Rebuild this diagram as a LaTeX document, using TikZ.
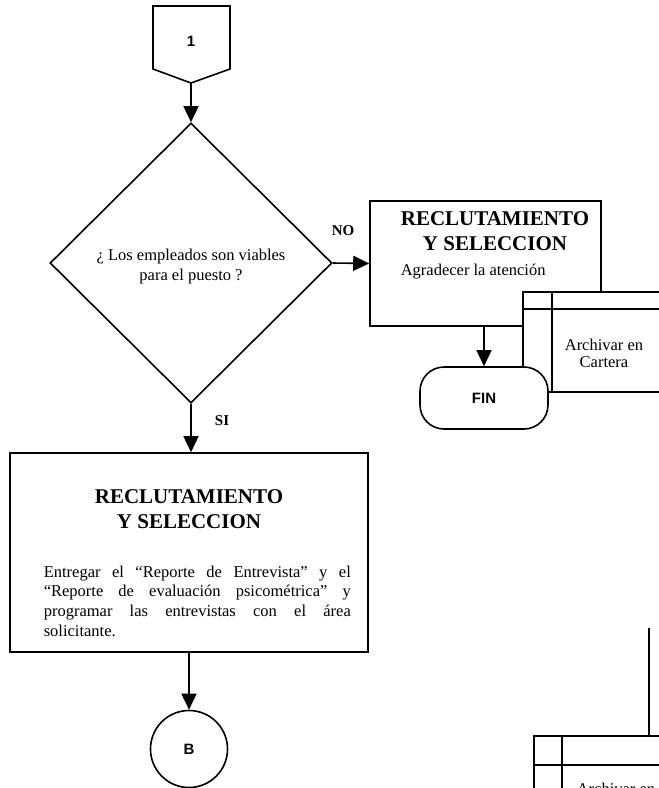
\documentclass[tikz,border=0pt]{standalone}
\usepackage{fontspec}
\setmainfont{Liberation Serif}
\newfontfamily\labelsans{Liberation Sans}
\usetikzlibrary{shapes.geometric,arrows.meta}
\begin{document}
\begin{tikzpicture}[x=1pt,y=-1pt,
  line width=1.6pt,
  flow/.style={-{Triangle[length=16pt,width=15pt]}},
  procbox/.style={draw,rectangle,inner sep=0pt},
  titletext/.style={font=\fontsize{21}{25}\selectfont\bfseries,align=center,inner sep=0pt},
  bodytext/.style={font=\fontsize{16.5}{19.7}\selectfont,inner sep=0pt},
  sidelabel/.style={font=\fontsize{15}{18}\selectfont\bfseries,inner sep=0pt},
  marktext/.style={font=\labelsans\bfseries\fontsize{15}{18}\selectfont,inner sep=0pt},
  filetext/.style={font=\fontsize{16.5}{17.5}\selectfont,align=center,inner sep=0pt}
]
\useasboundingbox (0,0) rectangle (659,788);
\clip (0,0) rectangle (659,788);

% off-page connector "1"
\draw (153,6) -- (230,6) -- (230,69) -- (191,83) -- (153,69) -- cycle;
\coordinate (p1tip) at (191,83);
\node[marktext] (p1) at (191,41) {1};

% decision
\node[draw,diamond,minimum width=282pt,minimum height=280pt,inner sep=0pt] (dec) at (191,263) {};
\node[bodytext,align=center,font=\fontsize{16.5}{20}\selectfont] (dectext) at (191,267)
  {¿ Los empleados son viables\\para el puesto ?};

% NO branch
\node[procbox,minimum width=231pt,minimum height=125pt] (nobox) at (485.5,263.5) {};
\node[titletext] (notitle) at (495,231.5) {RECLUTAMIENTO\\Y SELECCION};
\node[bodytext,anchor=base west] (notext) at (400,275) {Agradecer la atención};
\node[sidelabel] (nolabel) at (343,231) {NO};

% file symbol: Archivar en Cartera (lies over the box corner)
\fill[white] (523,292) rectangle (665,392);
\draw (523,392) -- (523,292) -- (665,292);
\draw (523,309) -- (665,309);
\draw (552,292) -- (552,392);
\draw (523,392) -- (665,392);
\node[filetext] (file1) at (604,353.5) {Archivar en\\Cartera};

% end terminal
\node[draw,rectangle,rounded corners=24pt,minimum width=128pt,minimum height=62pt,
      fill=white,marktext] (fin) at (484,398) {FIN};

% SI branch
\node[procbox,minimum width=358pt,minimum height=199pt] (sibox) at (189,552.5) {};
\node[titletext] (sititle) at (189,509.5) {RECLUTAMIENTO\\Y SELECCION};
\node[bodytext,text width=307pt,align=justify,anchor=north west] (sitext) at (43,565)
  {Entregar el ``Reporte de Entrevista'' y el\linebreak
   ``Reporte de evaluación psicométrica'' y\linebreak
   programar las entrevistas con el área\linebreak
   solicitante.};
\node[sidelabel] (silabel) at (222,421) {SI};

% connector "B"
\node[draw,circle,minimum size=77pt,inner sep=0pt,marktext] (b) at (189,749) {B};

% second file symbol
\coordinate (in2) at (649,628);
\coordinate (file2top) at (649,736);
\draw (534,800) -- (534,736) -- (665,736);
\draw (562,736) -- (562,800);
\draw (534,765) -- (665,765);
\node[bodytext,anchor=base west] (file2) at (576,794) {Archivar en};
\draw (in2) -- (file2top);

% connectors
\draw[flow] (p1tip) -- (dec.north);
\draw[flow] (dec.east) -- (nobox.west);
\draw[flow] (fin.north |- nobox.south) -- (fin.north);
\draw[flow] (dec.south) -- (dec.south |- sibox.north);
\draw[flow] (b.north |- sibox.south) -- (b.north);
\end{tikzpicture}
\end{document}
